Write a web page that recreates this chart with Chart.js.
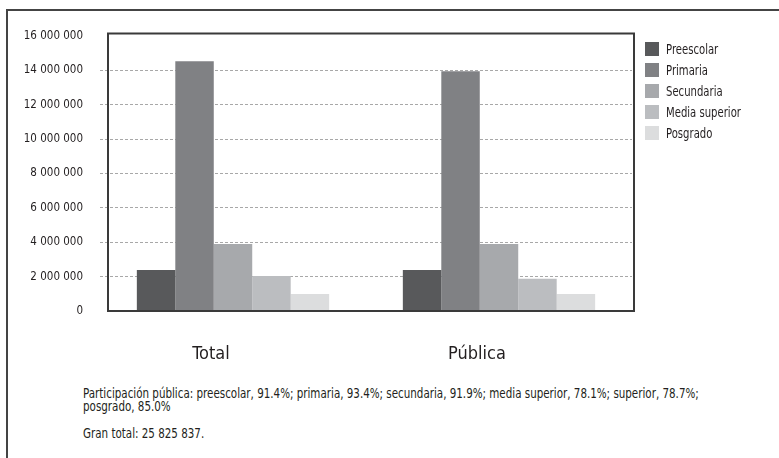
<!DOCTYPE html>
<html>
<head>
<meta charset="utf-8">
<script src="https://cdn.jsdelivr.net/npm/chart.js@4"></script>
<style>
  body { margin: 0; background: #fff; width: 779px; height: 458px; overflow: hidden; position: relative;
         font-family: "DejaVu Sans Condensed", "Liberation Sans Narrow", sans-serif; color: #231f20; }
  #frame { position: absolute; left: 6px; top: 9px; right: -5px; bottom: -5px;
           border-left: 2px solid #444; border-top: 2px solid #444; }
  #wrap { position: absolute; left: 0; top: 0; width: 779px; height: 372px; }
  #legend { position: absolute; left: 645px; top: 38px; font-size: 14px; }
  #legend .item { display: flex; align-items: center; height: 21px; }
  #legend .box { width: 14px; height: 14px; margin-right: 7px; flex: none; }
  #legend .txt { display: inline-block; transform: scaleX(0.8); transform-origin: left center; white-space: nowrap; }
  .nota { position: absolute; left: 83px; font-size: 14px; line-height: 13px; white-space: nowrap;
          transform: scaleX(0.82); transform-origin: left top; }
</style>
</head>
<body>
<div id="frame"></div>
<div id="wrap"><canvas id="grafico"></canvas></div>
<div id="legend"></div>
<div class="nota" style="top:387px">Participación pública: preescolar, 91.4%; primaria, 93.4%; secundaria, 91.9%; media superior, 78.1%; superior, 78.7%;<br>posgrado, 85.0%</div>
<div class="nota" style="top:427px">Gran total: 25 825 837.</div>
<script>
// categorias e series
const categorias = ['Total', 'Pública'];
const niveis = ['Preescolar', 'Primaria', 'Secundaria', 'Media superior', 'Posgrado'];
const preescolar = [2380000, 2380000];
const primaria = [14530000, 13950000];
const secundaria = [3900000, 3900000];
const mediaSuperior = [2030000, 1880000];
const posgrado = [990000, 990000];
const cores = ['#58595b', '#808184', '#a7a9ac', '#bbbdc0', '#dcddde'];
const yTicks = [0, 2000000, 4000000, 6000000, 8000000, 10000000, 12000000, 14000000, 16000000];

const series = [preescolar, primaria, secundaria, mediaSuperior, posgrado];
const fonte = '"DejaVu Sans Condensed", "Liberation Sans Narrow", sans-serif';

function formatar(v) {
    return String(v).replace(/\B(?=(\d{3})+(?!\d))/g, ' ');
}

// moldura da área do gráfico
const moldura = {
    id: 'moldura',
    afterDatasetsDraw(chart) {
        const a = chart.chartArea;
        const ctx = chart.ctx;
        ctx.save();
        ctx.strokeStyle = '#3a3a3a';
        ctx.lineWidth = 2;
        ctx.strokeRect(a.left + 8, a.top - 2.5, a.right - a.left - 6, a.bottom - a.top + 2.5);
        ctx.restore();
    }
};

const chart = new Chart(document.getElementById('grafico'), {
    type: 'bar',
    data: {
        labels: categorias,
        datasets: niveis.map((n, i) => ({
            label: n,
            data: series[i],
            backgroundColor: cores[i],
            borderWidth: 0,
            categoryPercentage: 0.723,
            barPercentage: 1
        }))
    },
    options: {
        responsive: true,
        maintainAspectRatio: false,
        animation: false,
        layout: { padding: { top: 36, right: 147, left: 0, bottom: 0 } },
        plugins: {
            legend: { display: false },
            tooltip: { enabled: false }
        },
        scales: {
            x: {
                grid: { display: false },
                border: { display: false },
                ticks: {
                    color: '#231f20',
                    font: { family: fonte, size: 18 },
                    padding: 25,
                    labelOffset: -22
                },
                afterFit(s) { s.height = 61; }
            },
            y: {
                min: 0,
                max: 16000000,
                afterBuildTicks(s) { s.ticks = yTicks.map(v => ({ value: v })); },
                border: { display: false, dash: [3, 2] },
                grid: {
                    drawTicks: false,
                    color: c => (c.tick && (c.tick.value === 0 || c.tick.value === 16000000)) ? 'rgba(0,0,0,0)' : '#a8a8a8',
                    lineWidth: 1
                },
                ticks: {
                    color: '#231f20',
                    font: { family: fonte, size: 11.5 },
                    padding: 17,
                    callback: v => formatar(v)
                },
                afterFit(s) { s.width = 100; }
            }
        }
    },
    plugins: [moldura]
});

// legenda em HTML a partir dos datasets
const leg = document.getElementById('legend');
chart.data.datasets.forEach(ds => {
    const it = document.createElement('div');
    it.className = 'item';
    it.innerHTML = '<span class="box" style="background:' + ds.backgroundColor + '"></span><span class="txt">' + ds.label + '</span>';
    leg.appendChild(it);
});
</script>
</body>
</html>
